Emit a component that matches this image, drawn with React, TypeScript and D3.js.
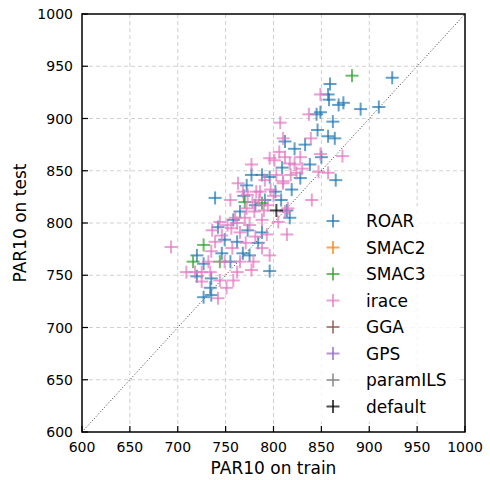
import React from "react";
import * as d3 from "d3";

const ticks = [600, 650, 700, 750, 800, 850, 900, 950, 1000];

const roar: [number, number][] = [
  [924, 939], [859, 933], [857, 923], [858, 918], [868, 913], [873, 915], [891, 909], [910, 911],
  [849, 906], [845, 904], [862, 897], [846, 889], [857, 883], [864, 881], [812, 878], [822, 871],
  [850, 863], [838, 856], [865, 841], [819, 832], [814, 812], [777, 846], [772, 836], [788, 846],
  [796, 844], [739, 824], [758, 803], [742, 796], [720, 769], [727, 761], [720, 749], [735, 747],
  [734, 738], [727, 729], [735, 731], [755, 763], [746, 771], [796, 754], [768, 771], [784, 781],
  [773, 793], [765, 811], [781, 817], [791, 822], [802, 830], [809, 853], [828, 843], [833, 875],
  [749, 784], [762, 782], [775, 769], [788, 791], [769, 826], [817, 805], [808, 822],
];
const smac2: [number, number][] = [];
const smac3: [number, number][] = [
  [882, 941], [770, 820], [788, 819], [727, 779], [716, 763], [744, 763],
];
const irace: [number, number][] = [
  [693, 777], [709, 753], [718, 753], [725, 753], [734, 753], [725, 744], [744, 745], [751, 738],
  [742, 728], [735, 773], [762, 753], [777, 755], [779, 763], [744, 801], [755, 822], [763, 838],
  [777, 856], [782, 830], [772, 814], [803, 846], [810, 838], [815, 814], [814, 789], [793, 789],
  [817, 857], [822, 856], [824, 848], [847, 849], [857, 848], [810, 840], [840, 822], [812, 811],
  [828, 863], [849, 866], [872, 864], [812, 863], [810, 881], [839, 881], [837, 904], [849, 923],
  [807, 896], [736, 793], [746, 788], [752, 798], [760, 805], [765, 791], [771, 781], [757, 776],
  [749, 763], [765, 763], [758, 745], [732, 763], [739, 782], [775, 798], [780, 811], [788, 803],
  [794, 817], [786, 830], [791, 841], [796, 862], [801, 860], [797, 832], [773, 827], [788, 776],
  [796, 769], [805, 801], [781, 787], [756, 795], [762, 800], [770, 805], [778, 820], [785, 822],
  [768, 830], [790, 812], [800, 826], [806, 868], [818, 846], [830, 852],
];
const gga: [number, number][] = [];
const gps: [number, number][] = [];
const paramils: [number, number][] = [];
const defaults: [number, number][] = [[803, 812]];

const series = [
  { name: "ROAR", color: "#1f77b4", data: roar },
  { name: "SMAC2", color: "#ff7f0e", data: smac2 },
  { name: "SMAC3", color: "#2ca02c", data: smac3 },
  { name: "irace", color: "#e377c2", data: irace },
  { name: "GGA", color: "#8c564b", data: gga },
  { name: "GPS", color: "#9467bd", data: gps },
  { name: "paramILS", color: "#7f7f7f", data: paramils },
  { name: "default", color: "#000000", data: defaults },
];

const W = 490, H = 480;
const L = 82, R = 465, T = 14, B = 432;
const font = "DejaVu Sans, sans-serif";

function Plus({ x, y, color, s = 6.5 }: { x: number; y: number; color: string; s?: number }) {
  return (
    <g stroke={color} strokeWidth={2} strokeOpacity={0.7}>
      <line x1={x - s} x2={x + s} y1={y} y2={y} />
      <line x1={x} x2={x} y1={y - s} y2={y + s} />
    </g>
  );
}

export default function App() {
  const x = d3.scaleLinear().domain([600, 1000]).range([L, R]);
  const y = d3.scaleLinear().domain([600, 1000]).range([B, T]);
  return (
    <svg width={W} height={H} style={{ position: "absolute", left: 0, top: 0 }} fontFamily={font}>
      <rect width={W} height={H} fill="#fff" />
      <g stroke="#d0d0d0" strokeWidth={1} strokeDasharray="4,3">
        {ticks.slice(1, -1).map((t) => (
          <line key={"gx" + t} x1={x(t)} x2={x(t)} y1={T} y2={B} />
        ))}
        {ticks.slice(1, -1).map((t) => (
          <line key={"gy" + t} x1={L} x2={R} y1={y(t)} y2={y(t)} />
        ))}
      </g>
      <line x1={x(600)} y1={y(600)} x2={x(1000)} y2={y(1000)} stroke="#333" strokeWidth={1} strokeDasharray="1,2" />
      {series.map((s) => (
        <g key={s.name}>
          {s.data.map((d, i) => (
            <Plus key={i} x={x(d[0])} y={y(d[1])} color={s.color} />
          ))}
        </g>
      ))}
      <rect x={320} y={206} width={140} height={216} fill="#fff" fillOpacity={0.8} />
      {series.map((s, i) => {
        const cy = 221 + i * 26.5;
        return (
          <g key={"lg" + s.name}>
            <Plus x={333} y={cy} color={s.color} />
            <text x={366} y={cy + 6} fontSize={17} fill="#000">{s.name}</text>
          </g>
        );
      })}
      <rect x={L} y={T} width={R - L} height={B - T} fill="none" stroke="#000" strokeWidth={1.5} />
      {ticks.map((t) => (
        <g key={"tx" + t}>
          <line x1={x(t)} x2={x(t)} y1={B} y2={B - 6} stroke="#000" strokeWidth={1.2} />
          <text x={x(t)} y={452} fontSize={14} textAnchor="middle">{t}</text>
          <line x1={L} x2={L + 6} y1={y(t)} y2={y(t)} stroke="#000" strokeWidth={1.2} />
          <text x={73} y={y(t) + 5} fontSize={14} textAnchor="end">{t}</text>
        </g>
      ))}
      <text x={(L + R) / 2} y={474} fontSize={17} textAnchor="middle">PAR10 on train</text>
      <text transform={`translate(26,${(T + B) / 2}) rotate(-90)`} fontSize={17} textAnchor="middle">PAR10 on test</text>
    </svg>
  );
}
